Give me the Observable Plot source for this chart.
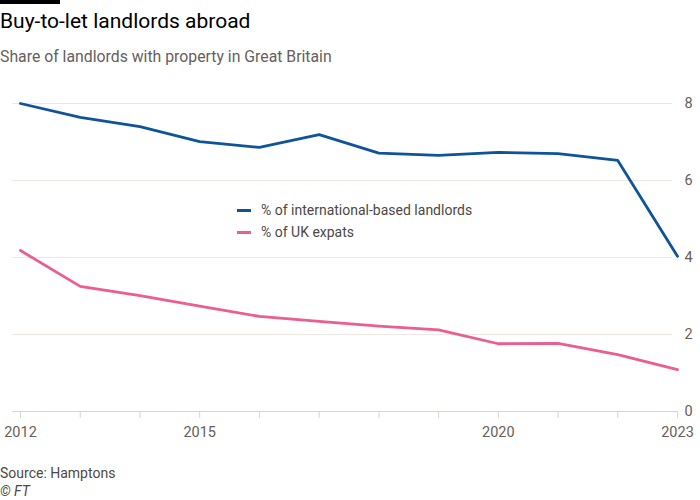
<!DOCTYPE html>
<html>
<head>
<meta charset="utf-8">
<script src="https://cdn.jsdelivr.net/npm/d3@7"></script>
<script src="https://cdn.jsdelivr.net/npm/@observablehq/plot@0.6"></script>
<style>
  body { margin: 0; background: #fff; font-family: Roboto, "Noto Sans", sans-serif; }
  #wrap { position: relative; width: 700px; height: 500px; overflow: hidden; }
  #bar { position: absolute; left: 0; top: 0; width: 60px; height: 4px; background: #000; }
  #title { position: absolute; left: 0; top: 9px; font-size: 21px; color: #000; white-space: nowrap; }
  #subtitle { position: absolute; left: 0; top: 47px; font-size: 15.8px; color: #66605c; white-space: nowrap; }
  #chart { position: absolute; left: 0; top: 80px; }
  #legend { position: absolute; left: 237px; top: 199px; font-size: 14px; color: #4d4845; }
  .row { display: flex; align-items: center; height: 22px; }
  .sw { width: 14px; height: 3px; margin-right: 10px; }
  #source { position: absolute; left: 0; top: 465px; font-size: 14px; color: #4d4845; }
  #ft { position: absolute; left: 0; top: 483px; font-size: 14px; color: #4d4845; font-style: italic; }
</style>
</head>
<body>
<div id="wrap">
  <div id="bar"></div>
  <div id="title">Buy-to-let landlords abroad</div>
  <div id="subtitle">Share of landlords with property in Great Britain</div>
  <div id="chart"></div>
  <div id="legend"></div>
  <div id="source">Source: Hamptons</div>
  <div id="ft">© FT</div>
</div>
<script>
const years = [2012, 2013, 2014, 2015, 2016, 2017, 2018, 2019, 2020, 2021, 2022, 2023];
const international = [8.0, 7.64, 7.4, 7.01, 6.86, 7.19, 6.71, 6.65, 6.73, 6.70, 6.52, 4.03];
const expats = [4.18, 3.25, 3.01, 2.74, 2.47, 2.34, 2.22, 2.12, 1.76, 1.77, 1.48, 1.09];
const yTicks = [0, 2, 4, 6, 8];
const xLabels = [2012, 2015, 2020, 2023];
const seriesNames = ["% of international-based landlords", "% of UK expats"];
const seriesColors = ["#0f5499", "#eb5e8d"];

const data = [];
years.forEach((y, i) => {
  data.push({year: y, value: international[i], series: seriesNames[0]});
  data.push({year: y, value: expats[i], series: seriesNames[1]});
});

const plot = Plot.plot({
  width: 700,
  height: 370,
  marginLeft: 12,
  marginRight: 28,
  marginTop: 23,
  marginBottom: 39,
  style: { fontFamily: "Roboto, 'Noto Sans', sans-serif", fontSize: "14.5px", color: "#66605c", background: "#fff" },
  x: { domain: [2012, 2023], insetLeft: 8, insetRight: -5 },
  y: { domain: [0, 8] },
  color: { domain: seriesNames, range: seriesColors },
  marks: [
    Plot.ruleY(yTicks.filter(d => d !== 0), { stroke: "#efe7e0", strokeWidth: 1 }),
    Plot.ruleY([0], { stroke: "#ddd3ca", strokeWidth: 1, insetRight: -5 }),
    Plot.axisY({ anchor: "right", ticks: yTicks, tickSize: 0, tickPadding: 12, label: null, fill: "#66605c", fontSize: 14.5 }),
    Plot.axisX({ ticks: years, tickSize: 7, tickPadding: 8, stroke: "#ddd3ca", label: null, fill: "#66605c", fontSize: 14.5,
      tickFormat: d => xLabels.includes(d) ? String(d) : "" }),
    Plot.line(data, { x: "year", y: "value", z: "series", stroke: "series", strokeWidth: 2.8, curve: "linear" })
  ]
});
document.getElementById("chart").appendChild(plot);

const legend = document.getElementById("legend");
seriesNames.forEach((n, i) => {
  const row = document.createElement("div");
  row.className = "row";
  const sw = document.createElement("div");
  sw.className = "sw";
  sw.style.background = seriesColors[i];
  const t = document.createElement("span");
  t.textContent = n;
  row.appendChild(sw); row.appendChild(t);
  legend.appendChild(row);
});
</script>
</body>
</html>
